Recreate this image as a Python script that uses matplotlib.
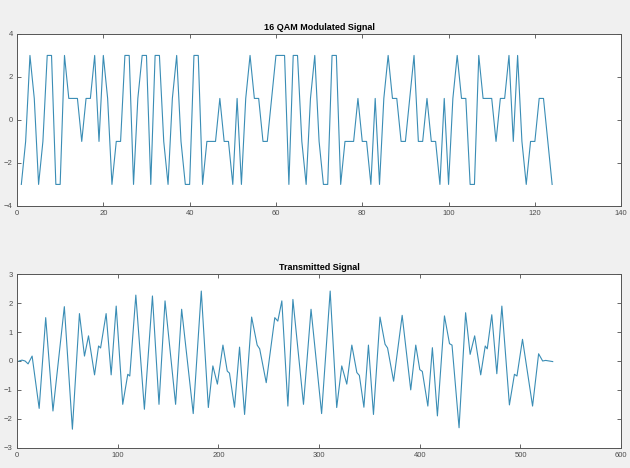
import matplotlib
matplotlib.use("Agg")
import matplotlib.pyplot as plt

# 16-QAM symbols (real part), sample index 1..124
qam_values = [
    -3, -1, 3, 1, -3, -1, 3, 3, -3, -3,
    3, 1, 1, 1, -1, 1, 1, 3, -1, 3,
    1, -3, -1, -1, 3, 3, -3, 1, 3, 3,
    -3, 3, 3, -1, -3, 1, 3, -1, -3, -3,
    3, 3, -3, -1, -1, -1, 1, -1, -1, -3,
    1, -3, 1, 3, 1, 1, -1, -1, 1, 3,
    3, 3, -3, 3, 3, -1, -3, 1, 3, -1,
    -3, -3, 3, 3, -3, -1, -1, -1, 1, -1,
    -1, -3, 1, -3, 1, 3, 1, 1, -1, -1,
    1, 3, -1, -1, 1, -1, -1, -3, 1, -3,
    1, 3, 1, 1, -3, -3, 3, 1, 1, 1,
    -1, 1, 1, 3, -1, 3, -1, -3, -1, -1,
    1, 1, -1, -3,
]
qam_index = list(range(1, len(qam_values) + 1))

# Transmitted (pulse shaped) signal, read at peaks, troughs and shoulders
tx_index = [
    2, 5, 8, 11, 15, 22, 28.5, 35.7, 47, 55,
    62, 67, 71, 77, 81, 83, 88.5, 93.5, 98.5, 105,
    110, 112, 118, 126.5, 134.5, 141, 147, 157.5, 163.5, 175,
    183, 190, 194.5, 199, 204.5, 208.8, 211, 216, 221, 226,
    233, 238.5, 241, 247.5, 256, 259, 263, 269, 274, 284.5,
    292, 302.5, 311, 317.5, 322.5, 327.5, 332.5, 337.5, 340, 344.5,
    349, 354, 360.5, 365.5, 368, 374, 382.5, 391, 396, 400,
    402.5, 408, 412.5, 417.5, 424.5, 429.5, 432, 439, 445.5, 450,
    454.5, 460.5, 465, 467, 471.5, 476.5, 481.5, 489, 494, 496.5,
    502, 512, 518, 522, 525, 532,
]
tx_values = [
    0.0, 0.03, 0.0, -0.1, 0.17, -1.64, 1.5, -1.73, 1.88, -2.36,
    1.64, 0.17, 0.87, -0.48, 0.52, 0.45, 1.64, -0.48, 1.9, -1.5,
    -0.46, -0.52, 2.28, -1.67, 2.25, -1.5, 2.08, -1.5, 1.79, -1.82,
    2.42, -1.61, -0.17, -0.8, 0.55, -0.35, -0.42, -1.6, 0.48, -1.85,
    1.52, 0.55, 0.42, -0.75, 1.5, 1.38, 2.08, -1.56, 2.13, -1.5,
    1.79, -1.82, 2.42, -1.61, -0.17, -0.8, 0.55, -0.4, -0.5, -1.6,
    0.55, -1.85, 1.52, 0.58, 0.45, -0.7, 1.58, -1.0, 0.55, -0.3,
    -0.36, -1.56, 0.46, -1.9, 1.56, 0.6, 0.55, -2.31, 1.67, 0.23,
    0.87, -0.48, 0.52, 0.42, 1.6, -0.44, 1.9, -1.52, -0.46, -0.52,
    0.75, -1.56, 0.25, 0.0, 0.02, -0.02,
]

line_color = "#3a8db5"
tick_color = "#4d4d4d"
plt.rcParams["font.family"] = ["Liberation Sans", "DejaVu Sans"]

fig = plt.figure(figsize=(6.3, 4.68), dpi=100, facecolor="#f0f0f0")
ax1 = fig.add_axes([0.027, 0.560, 0.959, 0.3675])
ax2 = fig.add_axes([0.027, 0.0434, 0.959, 0.3705])

ax1.plot(qam_index, qam_values, color=line_color, linewidth=0.8)
ax1.set_xlim(0, 140)
ax1.set_ylim(-4, 4)
ax1.set_xticks(range(0, 141, 20))
ax1.set_yticks([-4, -2, 0, 2, 4])
ax1.set_title("16 QAM Modulated Signal", fontsize=6.5, fontweight="bold", pad=3)

ax2.plot(tx_index, tx_values, color=line_color, linewidth=0.8)
ax2.set_xlim(0, 600)
ax2.set_ylim(-3, 3)
ax2.set_xticks(range(0, 601, 100))
ax2.set_yticks(range(-3, 4))
ax2.set_title("Transmitted Signal", fontsize=6.5, fontweight="bold", pad=3)

for ax in (ax1, ax2):
    ax.set_facecolor("white")
    ax.tick_params(direction="in", length=3, width=0.6, labelsize=5.5,
                   colors=tick_color, top=True, right=True, pad=3)
    for spine in ax.spines.values():
        spine.set_color("#555555")
        spine.set_linewidth(0.7)

fig.savefig("out.png", dpi=100, facecolor=fig.get_facecolor())
